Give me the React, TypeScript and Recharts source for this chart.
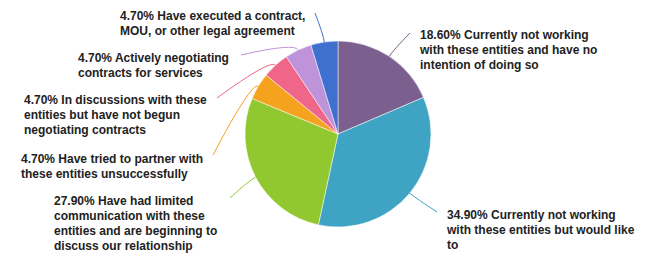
import { Pie, PieChart, Cell } from "recharts";

const CATEGORIES: string[][] = [
  ["Currently not working", "with these entities and have no", "intention of doing so"],
  ["Currently not working", "with these entities but would like", "to"],
  ["Have had limited", "communication with these", "entities and are beginning to", "discuss our relationship"],
  ["Have tried to partner with", "these entities unsuccessfully"],
  ["In discussions with these", "entities but have not begun", "negotiating contracts"],
  ["Actively negotiating", "contracts for services"],
  ["Have executed a contract,", "MOU, or other legal agreement"],
];

const VALUES = [18.6, 34.9, 27.9, 4.7, 4.7, 4.7, 4.7];

const COLORS = ["#7b5f8e", "#3fa3c3", "#91c72f", "#f5a31e", "#ef6688", "#bf93d9", "#3f6fcf"];

// label layout: text left x, first line center y, leader line end
const LABEL_LAYOUT = [
  { x: 420, y: 35, ex: 410, ey: 33 },
  { x: 447, y: 215, ex: 437, ey: 212 },
  { x: 54, y: 201, ex: 230, ey: 198 },
  { x: 21, y: 159, ex: 213, ey: 155 },
  { x: 24, y: 100, ex: 217, ey: 98 },
  { x: 78, y: 58, ex: 241, ey: 55 },
  { x: 120, y: 16, ex: 315, ey: 13 },
];

const data = VALUES.map((v, i) => ({ name: CATEGORIES[i].join(" "), value: v }));

const RAD = Math.PI / 180;

function renderLabel(props: any) {
  const { cx, cy, midAngle, outerRadius, index } = props;
  const lay = LABEL_LAYOUT[index];
  const cos = Math.cos(-midAngle * RAD);
  const sin = Math.sin(-midAngle * RAD);
  const sx = cx + outerRadius * cos;
  const sy = cy + outerRadius * sin;
  const mx = cx + (outerRadius + 8) * cos;
  const my = cy + (outerRadius + 8) * sin;
  const lines = CATEGORIES[index];
  return (
    <g key={`lbl-${index}`}>
      <path
        d={`M${sx},${sy} Q${mx},${my} ${lay.ex},${lay.ey}`}
        stroke={COLORS[index]}
        strokeWidth={1}
        fill="none"
      />
      <text
        x={lay.x}
        y={lay.y + 4}
        fill="#222"
        fontSize={12}
        fontWeight="bold"
        fontFamily="'Liberation Sans', Arial, sans-serif"
      >
        {lines.map((ln, j) => (
          <tspan key={j} x={lay.x} y={lay.y + 4 + j * 15}>
            {j === 0 ? `${VALUES[index].toFixed(2)}% ${ln}` : ln}
          </tspan>
        ))}
      </text>
    </g>
  );
}

export default function App() {
  return (
    <div style={{ position: "absolute", left: 0, top: 0, width: 648, height: 255, background: "#fff" }}>
      <PieChart width={648} height={255} margin={{ top: 0, right: 0, bottom: 0, left: 0 }}>
        <Pie
          data={data}
          dataKey="value"
          cx={338}
          cy={134}
          outerRadius={93}
          startAngle={90}
          endAngle={-270}
          stroke="#fff"
          strokeWidth={0.5}
          label={renderLabel}
          labelLine={false}
          isAnimationActive={false}
        >
          {data.map((_, i) => (
            <Cell key={i} fill={COLORS[i]} />
          ))}
        </Pie>
      </PieChart>
    </div>
  );
}
